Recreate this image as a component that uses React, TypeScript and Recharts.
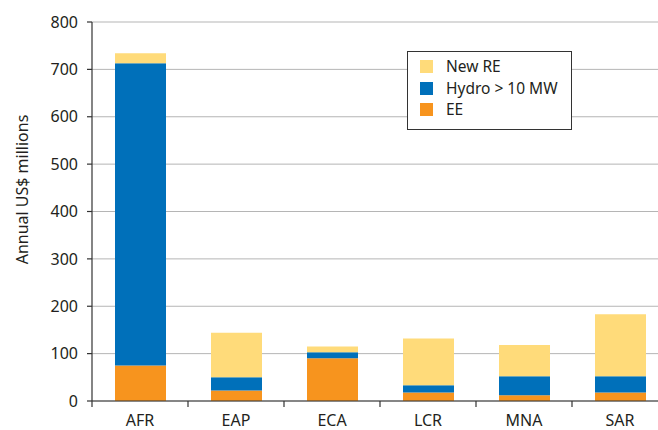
import React from "react";
import { Bar, BarChart, CartesianGrid, XAxis, YAxis } from "recharts";

const regions = ["AFR", "EAP", "ECA", "LCR", "MNA", "SAR"];
const ee = [75, 22, 90, 18, 12, 18];
const hydro = [638, 28, 13, 15, 40, 34];
const newRe = [21, 94, 12, 99, 66, 131];
const yTicks = [0, 100, 200, 300, 400, 500, 600, 700, 800];

const series = [
  { key: "newRe", name: "New RE", color: "#FFDB7A" },
  { key: "hydro", name: "Hydro > 10 MW", color: "#0070BA" },
  { key: "ee", name: "EE", color: "#F7941E" },
];

const data = regions.map((region, i) => ({
  region,
  ee: ee[i],
  hydro: hydro[i],
  newRe: newRe[i],
}));

const FONT = "'Noto Sans', 'Open Sans', sans-serif";
const TEXT = "#231F20";
const HALF_BAND = 48;

function XTick({ x, y, payload }: any) {
  return (
    <g>
      <line x1={x - HALF_BAND} x2={x - HALF_BAND} y1={y - 8} y2={y - 2} stroke="#333" strokeWidth={1.2} />
      <text x={x} y={y + 17} textAnchor="middle" fill={TEXT} fontSize={16} fontFamily={FONT}>
        {payload.value}
      </text>
    </g>
  );
}

function YTitle({ viewBox }: any) {
  const cx = 22;
  const cy = viewBox.y + viewBox.height / 2 - 22;
  return (
    <text
      x={cx}
      y={cy}
      transform={`rotate(-90, ${cx}, ${cy})`}
      textAnchor="middle"
      dominantBaseline="central"
      fill={TEXT}
      fontSize={16}
      fontFamily={FONT}
    >
      Annual US$ millions
    </text>
  );
}

function LegendBox() {
  return (
    <div
      style={{
        position: "absolute",
        left: 407,
        top: 51,
        border: "1px solid #333",
        width: 163,
        height: 73,
        background: "#fff",
        paddingTop: 4,
        fontFamily: FONT,
        fontSize: 15.5,
        color: TEXT,
      }}
    >
      {series.map((s) => (
        <div key={s.key} style={{ display: "flex", alignItems: "center", height: 21.5, paddingLeft: 12 }}>
          <span style={{ width: 13, height: 13, background: s.color, display: "inline-block", marginRight: 13 }} />
          <span style={{ lineHeight: "15px" }}>{s.name}</span>
        </div>
      ))}
    </div>
  );
}

export default function App() {
  return (
    <div style={{ position: "absolute", left: 0, top: 0, width: 658, height: 430, overflow: "hidden", background: "#fff" }}>
      <BarChart
        width={678}
        height={430}
        data={data}
        margin={{ top: 22, right: 10, left: 0, bottom: 0 }}
        barSize={51}
      >
        <CartesianGrid vertical={false} stroke="#b5b5b5" strokeWidth={1} />
        <XAxis
          dataKey="region"
          height={29}
          tickLine={false}
          axisLine={{ stroke: "#333", strokeWidth: 1.2 }}
          tick={<XTick />}
          interval={0}
        />
        <YAxis
          width={92}
          domain={[0, 800]}
          ticks={yTicks}
          interval={0}
          tickSize={5}
          tickMargin={9}
          tickLine={{ stroke: "#333", strokeWidth: 1.2 }}
          axisLine={{ stroke: "#333", strokeWidth: 1.2 }}
          tick={{ fill: TEXT, fontSize: 16, fontFamily: FONT }}
          label={{ content: <YTitle /> }}
        />
        <Bar dataKey="ee" name="EE" stackId="a" fill="#F7941E" isAnimationActive={false} />
        <Bar dataKey="hydro" name="Hydro > 10 MW" stackId="a" fill="#0070BA" isAnimationActive={false} />
        <Bar dataKey="newRe" name="New RE" stackId="a" fill="#FFDB7A" isAnimationActive={false} />
      </BarChart>
      <LegendBox />
    </div>
  );
}
